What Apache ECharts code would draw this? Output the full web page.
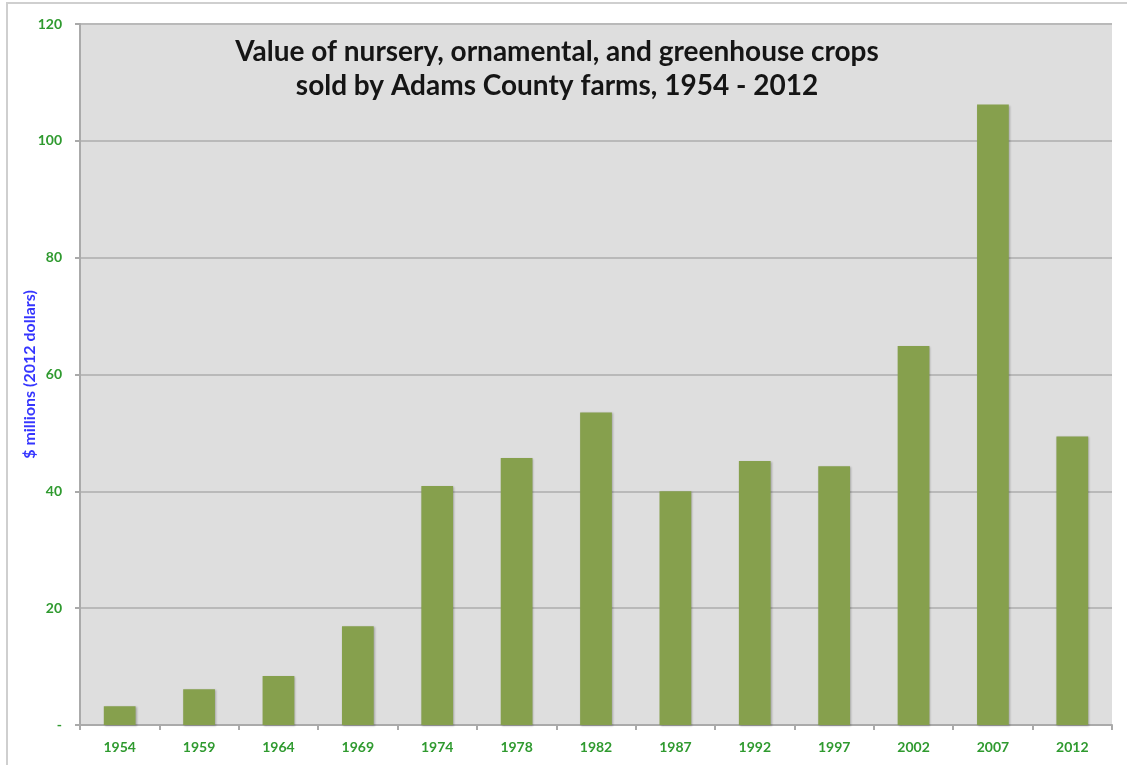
<!DOCTYPE html>
<html>
<head>
<meta charset="utf-8">
<script src="https://cdn.jsdelivr.net/npm/echarts@6/dist/echarts.min.js"></script>
<style>
  html, body { margin: 0; padding: 0; background: #fff; }
  #main { width: 1127px; height: 765px; }
</style>
</head>
<body>
<div id="main"></div>
<script>
// data
const years = ['1954', '1959', '1964', '1969', '1974', '1978', '1982', '1987', '1992', '1997', '2002', '2007', '2012'];
const values = [3.2, 6.1, 8.4, 16.9, 40.9, 45.7, 53.5, 40.0, 45.2, 44.3, 64.9, 106.2, 49.4];
const yTicks = [0, 20, 40, 60, 80, 100, 120];

const green = '#2f9a2f';
const labelFont = 'Lato, "Open Sans", sans-serif';

let myChart = echarts.init(document.getElementById('main'));
myChart.setOption({
  animation: false,
  title: {
    text: 'Value of nursery, ornamental, and greenhouse crops\nsold by Adams County farms, 1954 - 2012',
    left: 552,
    top: 30,
    textAlign: 'center',
    textStyle: {
      fontFamily: labelFont,
      fontSize: 28,
      fontWeight: 'bold',
      color: '#151515',
      lineHeight: 34
    }
  },
  graphic: [
    {
      type: 'rect',
      shape: { x: 7, y: 3, width: 1140, height: 790 },
      style: { fill: 'none', stroke: '#cfcfcf', lineWidth: 2 },
      silent: true,
      z: -10
    }
  ],
  grid: {
    left: 80,
    right: 15,
    top: 24,
    bottom: 40,
    show: true,
    backgroundColor: '#dedede',
    borderWidth: 0
  },
  xAxis: {
    type: 'category',
    data: years,
    axisLine: { show: true, lineStyle: { color: '#aaaaaa', width: 2 } },
    axisTick: { show: true, length: 5, lineStyle: { color: '#aaaaaa', width: 2 } },
    axisLabel: {
      color: green,
      fontFamily: labelFont,
      fontWeight: 'bold',
      fontSize: 14,
      margin: 15
    }
  },
  yAxis: {
    type: 'value',
    min: yTicks[0],
    max: yTicks[yTicks.length - 1],
    interval: yTicks[1] - yTicks[0],
    name: '$ millions (2012 dollars)',
    nameLocation: 'middle',
    nameGap: 42,
    nameMoveOverlap: false,
    nameTextStyle: {
      color: '#3535ff',
      fontFamily: labelFont,
      fontWeight: 'bold',
      fontSize: 16
    },
    axisLine: { show: true, lineStyle: { color: '#aaaaaa', width: 2 } },
    axisTick: { show: true, length: 5, lineStyle: { color: '#aaaaaa', width: 2 } },
    splitLine: { show: true, lineStyle: { color: '#b9b9b9', width: 2 } },
    axisLabel: {
      color: green,
      fontFamily: labelFont,
      fontWeight: 'bold',
      fontSize: 14,
      margin: 18,
      formatter: function (v) { return v === 0 ? '-' : String(v); }
    }
  },
  series: [
    {
      type: 'bar',
      data: values,
      barWidth: '40%',
      itemStyle: {
        color: '#86a04d',
        shadowColor: 'rgba(0,0,0,0.25)',
        shadowBlur: 2,
        shadowOffsetX: 1,
        shadowOffsetY: 1
      }
    }
  ]
});

window.addEventListener('resize', function () {
  myChart.resize();
});
</script>
</body>
</html>
